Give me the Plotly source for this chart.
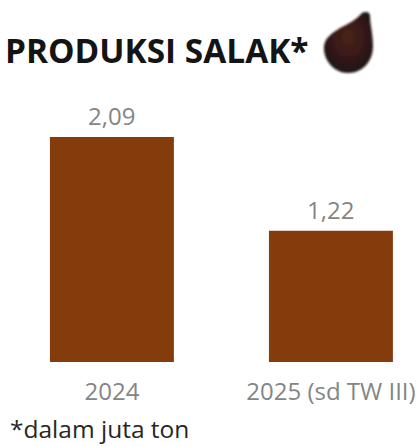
import base64
import plotly.graph_objects as go

categories = ["2024", "2025 (sd TW III)"]
values = [2.09, 1.22]
value_labels = ["2,09", "1,22"]

TITLE = "PRODUKSI SALAK*"
NOTE = "*dalam juta ton"
BAR_COLOR = "#843C0C"
LABEL_COLOR = "#858585"
FONT = "Open Sans"

# Salak fruit icon: a dark teardrop with a faint reddish sheen and soft edge
fruit_svg = """<svg xmlns="http://www.w3.org/2000/svg" width="80" height="80" viewBox="0 0 80 80">
<defs>
<radialGradient id="g" cx="0.5" cy="0.42" r="0.6">
<stop offset="0" stop-color="#4a2419"/>
<stop offset="0.55" stop-color="#36191a"/>
<stop offset="1" stop-color="#1c1214"/>
</radialGradient>
<filter id="b"><feGaussianBlur stdDeviation="0.9"/></filter>
</defs>
<path filter="url(#b)" fill="url(#g)" d="M52 13 C56 11 60 12 60 16 C60 24 63 34 63 46 C63 62 52 73 38 73
C24 73 13 60 14 46 C15 38 22 33 30 28 C38 24 46 20 52 13 Z"/>
</svg>"""
fruit_uri = "data:image/svg+xml;base64," + base64.b64encode(fruit_svg.encode()).decode()

fig = go.Figure(
    go.Bar(
        x=categories,
        y=values,
        width=0.566,
        marker=dict(color=BAR_COLOR, line_width=0),
        hoverinfo="skip",
    )
)

# Value labels sit just above each bar; category axes take the serial index here
value_annotations = [
    dict(
        text=label,
        x=index,
        y=value,
        xref="x",
        yref="y",
        xanchor="center",
        yanchor="bottom",
        yshift=3,
        showarrow=False,
        font=dict(family=FONT, size=24, color=LABEL_COLOR),
    )
    for index, (value, label) in enumerate(zip(values, value_labels))
]

fig.update_layout(
    width=417,
    height=446,
    margin=dict(l=0, r=0, t=0, b=84),
    paper_bgcolor="white",
    plot_bgcolor="white",
    showlegend=False,
    font=dict(family=FONT),
    xaxis=dict(
        type="category",
        range=[-0.511, 1.393],
        showgrid=False,
        showline=False,
        ticks="",
        tickangle=0,
        ticklabelstandoff=13,
        tickfont=dict(family=FONT, size=24, color=LABEL_COLOR),
    ),
    yaxis=dict(range=[0, 3.362], visible=False),
    annotations=value_annotations + [
        dict(
            text=f"<b>{TITLE}</b>",
            xref="paper", yref="paper",
            x=3 / 417, y=1 - 50 / 362,
            xanchor="left", yanchor="middle",
            showarrow=False,
            font=dict(family=FONT, size=33.4, color="#141414"),
        ),
        dict(
            text=NOTE,
            xref="paper", yref="paper",
            x=8 / 417, y=1 - 428.5 / 362,
            xanchor="left", yanchor="middle",
            showarrow=False,
            font=dict(family=FONT, size=24.5, color="#262626"),
        ),
    ],
    images=[
        dict(
            source=fruit_uri,
            xref="paper", yref="paper",
            x=310 / 417, y=1,
            sizex=80 / 417, sizey=80 / 362,
            xanchor="left", yanchor="top",
            sizing="stretch",
            layer="above",
        )
    ],
)

fig.write_html("out.html", config={"displayModeBar": False})
